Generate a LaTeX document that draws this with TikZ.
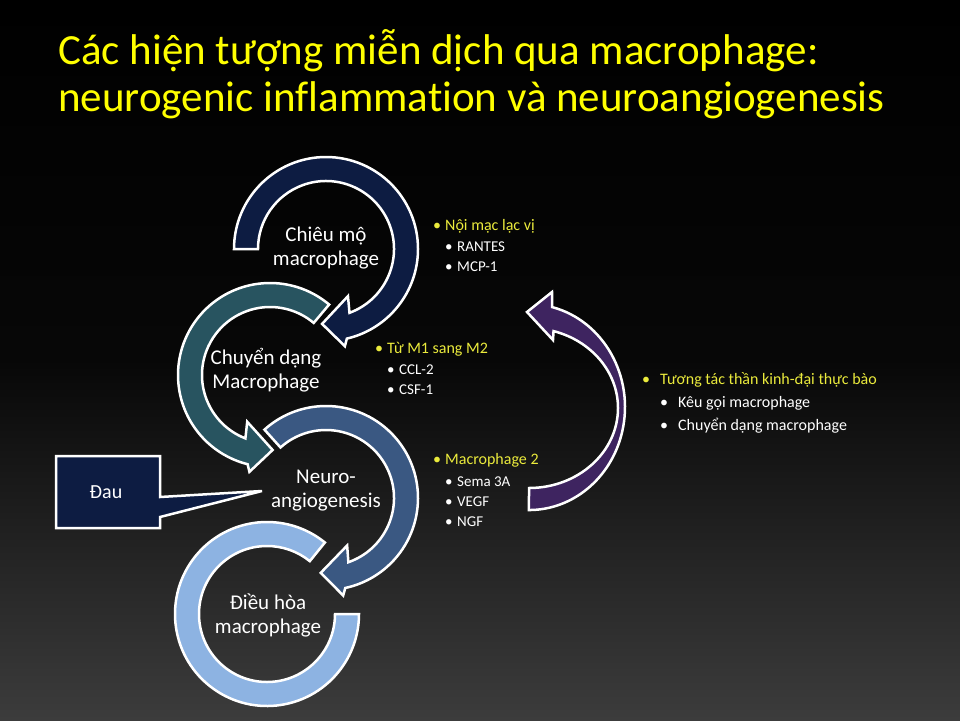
\documentclass[tikz,border=0pt]{standalone}
\usepackage{fontspec}
\setmainfont{Carlito}[Ligatures=NoCommon]
\definecolor{navyc}{RGB}{13,28,66}
\definecolor{tealc}{RGB}{40,84,96}
\definecolor{slatec}{RGB}{58,88,130}
\definecolor{lightc}{RGB}{141,179,226}
\definecolor{purplec}{RGB}{62,36,96}
\definecolor{titley}{RGB}{255,255,0}
\definecolor{bully}{RGB}{235,235,60}
\definecolor{bgbot}{RGB}{60,60,60}
\begin{document}
\begin{tikzpicture}[x=1pt,y=1pt,
  band/.style={draw=white, line width=2.5pt, line join=miter},
  lbl/.style={text=white, font=\fontsize{21}{24}\selectfont, align=center, inner sep=0},
  ttl/.style={text=titley, font=\fontsize{43}{50}\selectfont, anchor=base west, inner sep=0},
  bhead/.style={text=bully, font=\fontsize{16}{19}\selectfont, anchor=base west, inner sep=0},
  bsub/.style={text=white, font=\fontsize{15}{18}\selectfont, anchor=base west, inner sep=0}]
\useasboundingbox (0,0) rectangle (960,-720);
\shade[top color=black, bottom color=bgbot, middle color=black!88!bgbot] (0,0) rectangle (960,-720);

% title
\node[ttl] (t1) at (58,-64) {Các hiện tượng miễn dịch qua macrophage:};
\node[ttl] (t2) at (58,-111) {neurogenic inflammation và neuroangiogenesis};

% light blue ring (no head)
\begin{scope}[shift={(267,-614)}]
\draw[band, fill=lightc] (51:92) arc (51:360:92) -- (0:68) arc (360:51:68) -- cycle;
\end{scope}
% slate arrow
\begin{scope}[shift={(326,-498)}]
\draw[band, fill=slatec] (132:92) arc (132:-77.9:92) -- (-80:99) -- (-94:75) -- (-66:52) -- (-70.8:68) arc (-70.8:132:68) -- cycle;
\end{scope}
% teal arrow
\begin{scope}[shift={(270,-375)}]
\draw[band, fill=tealc] (50:92) arc (50:255.9:92) -- (258:99) -- (272:75) -- (244:52) -- (248.8:68) arc (248.8:50:68) -- cycle;
\end{scope}
% navy arrow
\begin{scope}[shift={(326,-249)}]
\draw[band, fill=navyc] (180:92) arc (180:-76.9:92) -- (-79:99) -- (-93:75) -- (-65:52) -- (-69.8:68) arc (-69.8:180:68) -- cycle;
\end{scope}

% purple curved arrow
\draw[band, fill=purplec] (529,-488) arc[start angle=-90, end angle=74, x radius=89, y radius=80]
  -- (553,-340) -- (527,-312) -- (552,-292) -- (552.2,-307.1)
  arc[start angle=76, end angle=-90, x radius=96, y radius=103] -- cycle;

% labels
\node[lbl] (chieu) at (326,-248) {Chiêu mộ\\macrophage};
\node[lbl] (chuyen) at (266,-370) {Chuyển dạng\\Macrophage};
\node[lbl] (neuro) at (326,-491) {Neuro-\\angiogenesis};
\node[lbl] (dieu) at (268,-615) {Điều hòa\\macrophage};

% Dau callout
\draw[band, fill=navyc] (56,-456) -- (160,-456) -- (160,-497) -- (262,-491) -- (160,-517) -- (160,-528) -- (56,-528) -- cycle;
\node[text=white, font=\fontsize{20}{23}\selectfont, inner sep=0] (dau) at (106,-492) {Đau};

% bullet group 1
\node[bhead] (g1) at (433,-230) {\makebox[12pt][l]{\textbullet}Nội mạc lạc vị};
\node[bsub] (g1a) at (445,-251) {\makebox[12pt][l]{\textbullet}RANTES};
\node[bsub] (g1b) at (445,-271) {\makebox[12pt][l]{\textbullet}MCP-1};
% group 2
\node[bhead] (g2) at (375,-353) {\makebox[12pt][l]{\textbullet}Từ M1 sang M2};
\node[bsub] (g2a) at (387,-374) {\makebox[12pt][l]{\textbullet}CCL-2};
\node[bsub] (g2b) at (387,-394) {\makebox[12pt][l]{\textbullet}CSF-1};
% group 3
\node[bhead] (g3) at (433,-464) {\makebox[12pt][l]{\textbullet}Macrophage 2};
\node[bsub] (g3a) at (445,-486) {\makebox[12pt][l]{\textbullet}Sema 3A};
\node[bsub] (g3b) at (445,-506) {\makebox[12pt][l]{\textbullet}VEGF};
\node[bsub] (g3c) at (445,-526) {\makebox[12pt][l]{\textbullet}NGF};
% right group
\node[bhead, font=\fontsize{16}{19}\selectfont] (g4) at (642,-384) {\makebox[18pt][l]{\textbullet}Tương tác thần kinh-đại thực bào};
\node[bsub, font=\fontsize{16}{19}\selectfont] (g4a) at (660,-407) {\makebox[18pt][l]{\textbullet}Kêu gọi macrophage};
\node[bsub, font=\fontsize{16}{19}\selectfont] (g4b) at (660,-430) {\makebox[18pt][l]{\textbullet}Chuyển dạng macrophage};
\end{tikzpicture}
\end{document}
